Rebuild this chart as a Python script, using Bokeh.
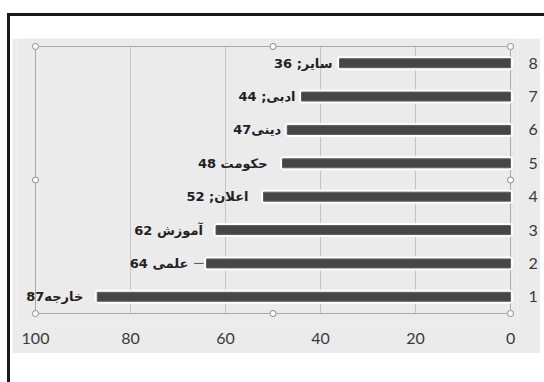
from bokeh.plotting import figure
from bokeh.models import Range1d, FixedTicker, ColumnDataSource, LabelSet, Column
from bokeh.core.properties import value
from bokeh.embed import file_html
from bokeh.resources import INLINE

# ---- data ----
categories = [1, 2, 3, 4, 5, 6, 7, 8]
values = [87, 64, 62, 52, 48, 47, 44, 36]
labels = ["خارجه87", "علمی 64", "آموزش 62", "اعلان; 52", "حکومت 48", "دینی47", "ادبی; 44", "سایر; 36"]
x_ticks = [0, 20, 40, 60, 80, 100]

# ---- style ----
label_gap_px = [14, 18, 13, 15, 15, 6, 6, 7]
PW, PH = 528, 315          # gray chart panel size

x_lo, x_hi = min(x_ticks), max(x_ticks)
y_lo, y_hi = min(categories) - 0.5, max(categories) + 0.5

p = figure(width=PW, height=PH, output_backend="svg", toolbar_location=None,
           x_range=Range1d(x_hi + 4.0, x_lo - 1.47),
           y_range=Range1d(y_lo - 0.30, y_hi + 0.24),
           min_border_left=4, min_border_right=22,
           min_border_top=0, min_border_bottom=30,
           y_axis_location="right")
p.border_fill_color = "#ebebeb"
p.background_fill_color = "#ebebeb"
p.outline_line_color = None
p.margin = (22, 4, 29, 2)

# axes
p.xaxis.ticker = FixedTicker(ticks=x_ticks)
p.yaxis.ticker = FixedTicker(ticks=categories)
for ax in (p.xaxis[0], p.yaxis[0]):
    ax.axis_line_color = None
    ax.major_tick_line_color = None
    ax.minor_tick_line_color = None
    ax.major_tick_out = 0
    ax.major_tick_in = 0
    ax.minor_tick_out = 0
    ax.minor_tick_in = 0
    ax.major_label_text_font = "Lato"
    ax.major_label_text_font_size = "16px"
    ax.major_label_text_color = "#3a3a3a"
p.xaxis.major_label_standoff = 9
p.yaxis.major_label_standoff = 11
p.xgrid.grid_line_color = None
p.ygrid.grid_line_color = None

# vertical grid lines limited to the plot area
inner = [t for t in x_ticks if x_lo < t < x_hi]
p.segment(x0=inner, x1=inner, y0=[y_lo] * len(inner), y1=[y_hi] * len(inner),
          line_color="#c4c4c4", line_width=1)
# plot-area outline
p.quad(left=[x_hi], right=[x_lo], bottom=[y_lo], top=[y_hi],
       fill_color=None, line_color="#a9a9a9", line_width=1)

src = ColumnDataSource(dict(y=categories, v=values, label=labels,
                            xoff=[-g for g in label_gap_px]))

# white halo then dark bar
p.hbar(y="y", right=0, left="v", height=0.27, source=src,
       fill_color="white", line_color="white", line_width=5)
p.hbar(y="y", right=0, left="v", height=0.27, source=src,
       fill_color="#464646", line_color="#5e5e5e", line_width=1)

# leader line for category 2
lead_src = ColumnDataSource(dict(y=[categories[1]], x0=[values[1] + 0.6], x1=[values[1] + 2.6]))
p.segment(x0="x0", x1="x1", y0="y", y1="y", source=lead_src, line_color="#555555", line_width=1)

p.add_layout(LabelSet(x="v", y="y", text="label", source=src, x_offset="xoff",
                      text_align="right", text_baseline="middle",
                      text_font=value("DejaVu Sans"), text_font_style="bold",
                      text_font_size="13px", text_color="#222222"))

# selection handles on the plot area
xm, ym = (x_lo + x_hi) / 2, (y_lo + y_hi) / 2
hx = [x_hi, xm, x_lo, x_hi, x_lo, x_hi, xm, x_lo]
hy = [y_hi, y_hi, y_hi, ym, ym, y_lo, y_lo, y_lo]
p.scatter(x=hx, y=hy, marker="circle", size=6, fill_color="white",
          line_color="#8a8a8a", line_width=1)

page = Column(children=[p], margin=(13, 0, 0, 7),
              styles={"border-top": "3px solid #1a1a1a",
                      "border-left": "3px solid #1a1a1a",
                      "background-color": "white"})

open("out.html", "w").write(file_html(page, INLINE))
